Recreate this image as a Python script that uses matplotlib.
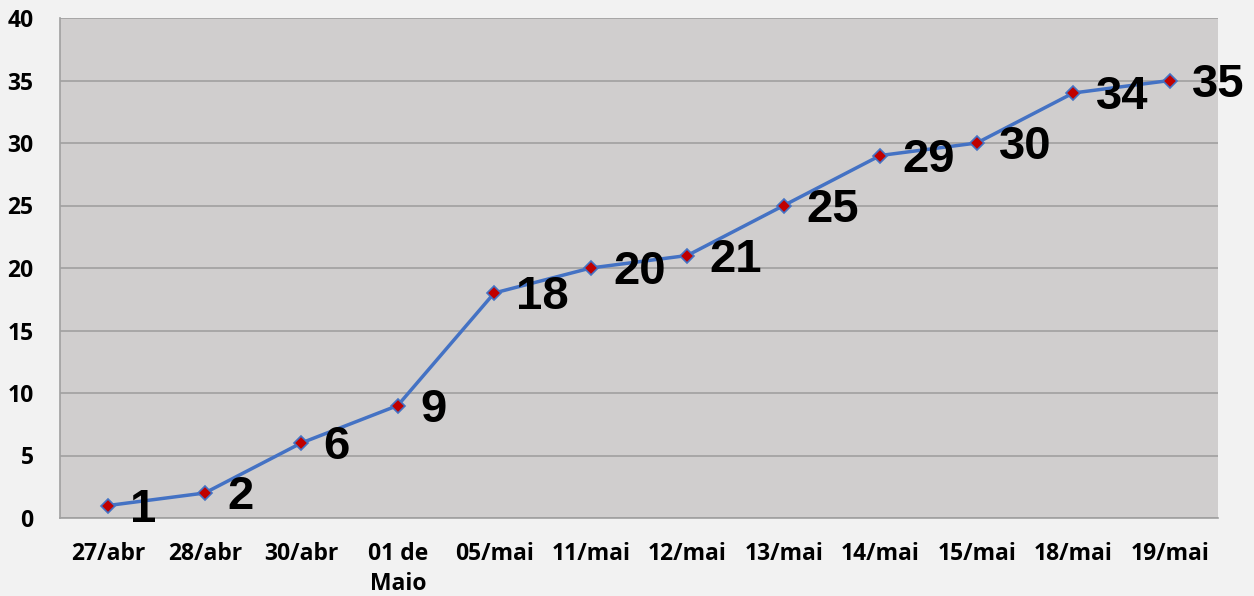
import matplotlib.pyplot as plt
import numpy as np

datas = ['27/abr', '28/abr', '30/abr', '01 de\nMaio', '05/mai', '11/mai',
         '12/mai', '13/mai', '14/mai', '15/mai', '18/mai', '19/mai']
casos = [1, 2, 6, 9, 18, 20, 21, 25, 29, 30, 34, 35]

fig = plt.figure(figsize=(12.54, 5.96), dpi=100, facecolor='#f2f2f2')
ax = fig.add_axes([60/1254, 78/596, 1158/1254, 500/596])
ax.set_facecolor('#d0cece')

x = np.arange(len(datas))
ax.plot(x, casos, color='#4472c4', lw=2.5, marker='D', markersize=7,
        markerfacecolor='#c00000', markeredgecolor='#4472c4', markeredgewidth=1.2,
        zorder=3)

for xi, yi in zip(x, casos):
    ax.annotate(str(yi), (xi, yi), xytext=(16, -3), textcoords='offset points',
                ha='left', va='center', fontsize=34, fontweight='bold',
                family='Liberation Sans', color='black', zorder=4,
                annotation_clip=False)

ax.set_xlim(-0.5, len(datas) - 0.5)
ax.set_ylim(0, 40)
ax.set_yticks(range(0, 41, 5))
ax.set_xticks(x)
ax.set_xticklabels(datas, linespacing=1.35)
ax.grid(axis='y', color='#a0a0a0', lw=1.2)
ax.set_axisbelow(True)
ax.tick_params(length=0, labelsize=16.5)
ax.tick_params(axis='x', pad=17)
ax.tick_params(axis='y', pad=19)
for lab in ax.get_xticklabels() + ax.get_yticklabels():
    lab.set_fontfamily('Open Sans')
    lab.set_fontweight('bold')
for s in ['top', 'right']:
    ax.spines[s].set_visible(False)
for s in ['left', 'bottom']:
    ax.spines[s].set_color('#a0a0a0')
    ax.spines[s].set_linewidth(1.2)

plt.savefig('out.png', facecolor=fig.get_facecolor())
